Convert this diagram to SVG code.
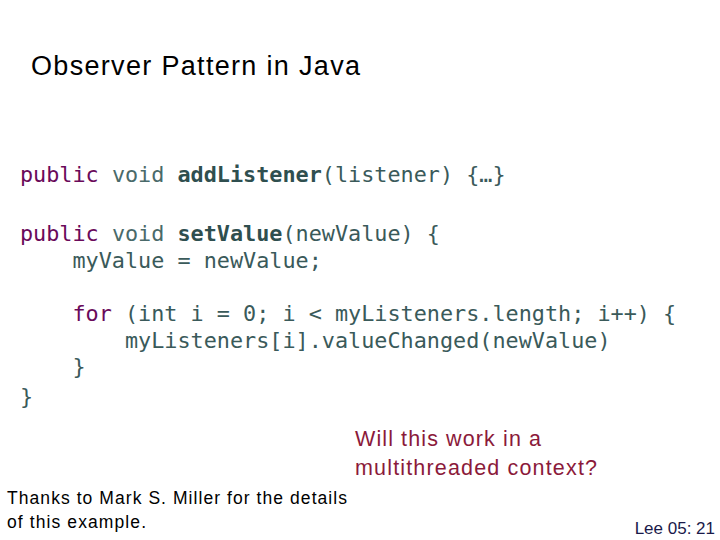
<svg xmlns="http://www.w3.org/2000/svg" width="720" height="540" viewBox="0 0 720 540">
<style>
.c{font-family:"DejaVu Sans Mono",monospace;font-size:21.8px;fill:#3a5a5a;white-space:pre}
.k{fill:#6a0a5a}.v{fill:#4a6a6a}.b{font-weight:bold;fill:#2f4f4f}
.s{font-family:"Liberation Sans",Arial,sans-serif}
</style>
<rect width="720" height="540" fill="#fff"/>
<text class="s" x="31" y="75" font-size="27" fill="#000" textLength="329" lengthAdjust="spacing">Observer Pattern in Java</text>
<text class="c" x="20" y="182"><tspan class="k">public</tspan> <tspan class="v">void</tspan> <tspan class="b">addListener</tspan>(listener) {…}</text>
<text class="c" x="20" y="241"><tspan class="k">public</tspan> <tspan class="v">void</tspan> <tspan class="b">setValue</tspan>(newValue) {</text>
<text class="c" x="20" y="268">    myValue = newValue;</text>
<text class="c" x="20" y="321">    <tspan class="k">for</tspan> (int i = 0; i &lt; myListeners.length; i++) {</text>
<text class="c" x="20" y="348">        myListeners[i].valueChanged(newValue)</text>
<text class="c" x="20" y="374">    }</text>
<text class="c" x="20" y="404">}</text>
<text class="s" x="355" y="446" font-size="21.5" fill="#8b1a3a" textLength="186" lengthAdjust="spacing">Will this work in a</text>
<text class="s" x="355" y="475" font-size="21.5" fill="#8b1a3a" textLength="242" lengthAdjust="spacing">multithreaded context?</text>
<text class="s" x="7" y="504" font-size="17.5" fill="#000" textLength="340" lengthAdjust="spacing">Thanks to Mark S. Miller for the details</text>
<text class="s" x="7" y="528" font-size="17.5" fill="#000" textLength="139" lengthAdjust="spacing">of this example.</text>
<text class="s" x="715" y="534" font-size="17" fill="#1a1a4a" text-anchor="end">Lee 05: 21</text>
</svg>
